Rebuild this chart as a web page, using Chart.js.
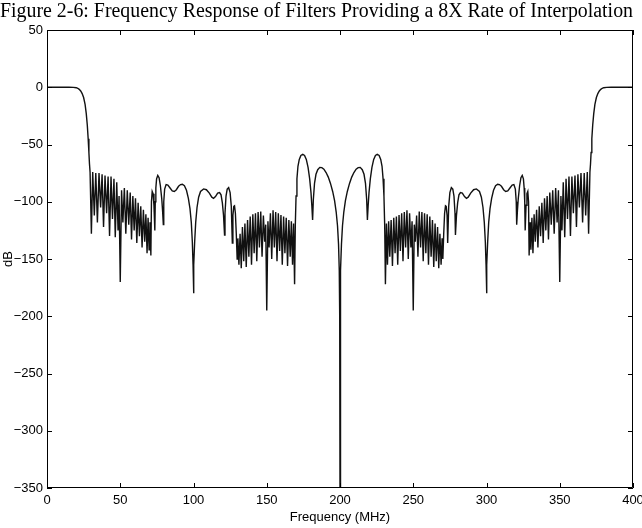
<!DOCTYPE html>
<html>
<head>
<meta charset="utf-8">
<script src="https://cdn.jsdelivr.net/npm/chart.js@4.4.1/dist/chart.umd.min.js"></script>
<style>
  html, body { margin: 0; padding: 0; background: #ffffff; }
  #c { display: block; }
</style>
</head>
<body>
<canvas id="c" width="642" height="528"></canvas>
<script>
// ---- Data ----
const chartTitle = "Figure 2-6: Frequency Response of Filters Providing a 8X Rate of Interpolation";
const xAxisTitle = "Frequency (MHz)";
const yAxisTitle = "dB";
const xTickValues = [0, 50, 100, 150, 200, 250, 300, 350, 400];
const yTickValues = [50, 0, -50, -100, -150, -200, -250, -300, -350];

// Left half (0 .. 200 MHz)
const leftFreq = [
  0, 5, 10, 15, 18, 20, 21, 22, 23, 24, 25, 26, 26.8, 27.5, 28.1, 28.6, 29.0, 29.4,
  30.3, 31.2, 32.3, 33.3, 34.4, 35.5, 36.6, 37.6, 38.6, 39.6, 40.7, 41.7, 42.7, 43.7, 44.7, 45.7, 46.6, 47.6, 48.5, 49.2,
  50.0, 50.9, 51.8, 52.8, 53.8, 54.8, 55.8, 56.8, 57.7, 58.6, 59.5, 60.4, 61.3, 62.2, 63.1, 64.0, 64.9, 65.8, 66.7, 67.5, 68.3, 69.0, 69.7, 70.3, 70.9,
  71.3, 71.8, 72.4, 73.0, 73.6,
  73.9, 74.3, 74.8, 75.6, 76.5, 77.4, 78.3, 78.9, 79.4,
  79.7, 80.3, 81.3, 82.5, 84, 85.5, 86.9, 88.3, 89.8, 91.2, 92.4, 93.8, 95.2, 96.5, 97.6, 98.5, 99.2, 99.7, 100,
  100.3, 100.8, 101.5, 102.4, 103.5, 104.8, 106.9, 108.8, 110.8, 112.5, 113.7, 115, 116.5, 117.8, 118.8, 119.7, 120.5, 121.2,
  121.5, 122.2, 123, 124, 125, 125.8, 126.5, 126.9, 127.5, 128, 128.6, 129.2, 129.8,
  130.3, 131, 131.8, 132.6, 133.4, 134.3, 135.1, 136, 136.9, 137.8, 138.7, 139.6, 140.5, 141.4, 142.3, 143.2, 144.1, 145, 145.9, 146.8, 147.7, 148.6, 149.3,
  150, 150.8, 151.6, 152.5, 153.4, 154.3, 155.2, 156.1, 157, 157.9, 158.8, 159.7, 160.6, 161.5, 162.4, 163.3, 164.2, 165.1, 166, 166.8, 167.6, 168.3, 169,
  169.5, 170, 170.6, 171.3, 172.2, 173.3, 174.6, 175.8, 177, 178.2, 179.3, 180.2, 180.8, 181.3,
  181.8, 182.6, 183.6, 184.8, 186.2, 187.6, 189, 190.5, 192, 193.5, 195, 196.3, 197.4, 198.3, 199, 199.5, 199.8, 200
];
const leftDb = [
  0, 0, 0, 0, -0.1, -0.4, -0.9, -1.8, -3.2, -5.5, -9, -15, -23, -33, -45, -57, -67, -74,
  -128, -74, -112, -75, -118, -75, -105, -76, -122, -77, -110, -78, -130, -78, -115, -80, -131, -83, -125, -95,
  -170, -90, -118, -88, -128, -90, -120, -92, -133, -95, -125, -97, -136, -101, -130, -104, -140, -107, -135, -111, -145, -114, -142, -118, -147,
  -100, -91, -93, -103, -125,
  -100, -88, -80, -77, -79, -86, -97, -108, -120,
  -100, -89, -85, -85.5, -88, -90.5, -91, -89.5, -86.5, -85, -84.7, -86, -90, -97, -106, -118, -135, -155, -180,
  -155, -135, -118, -105, -96, -91, -88.8, -89.5, -92.5, -96, -97, -95.5, -92.5, -92, -94, -101, -112, -129,
  -110, -95, -89, -87.7, -92, -104, -136, -112, -104, -103.5, -110, -128, -150,
  -132, -155, -128, -158, -122, -152, -119, -157, -116, -148, -113, -155, -111, -145, -110, -152, -109, -140, -108.5, -148, -112, -135, -120,
  -195, -117, -140, -110, -150, -107.5, -140, -109, -152, -110, -143, -111.5, -155, -113, -145, -114, -156, -116, -148, -117, -155, -119, -172,
  -120, -95, -80, -69, -63, -59.5, -58.5, -59.5, -63, -70, -80, -92, -104, -116,
  -98, -84, -76, -72, -70, -70.2, -71.5, -74.5, -78.5, -84, -91, -99, -109, -121, -137, -160, -200, -350
];

// Right half (200 .. 400 MHz)
const rightFreq = [
  200.2, 200.5, 201, 201.7, 202.6, 203.7, 205, 206.5, 208, 209.5, 211, 212.4, 213.8, 215.2, 216.4, 217.4, 218.2, 218.7,
  219.2, 219.8, 220.7, 221.8, 223, 224.2, 225.4, 226.7, 227.8, 228.7, 229.4, 230, 230.5, 231,
  231.7, 232.4, 233.2, 234, 234.9, 235.8, 236.7, 237.6, 238.5, 239.4, 240.3, 241.2, 242.1, 243, 243.9, 244.8, 245.7, 246.6, 247.5, 248.4, 249.2,
  250, 250.7, 251.4, 252.3, 253.2, 254.1, 255, 255.9, 256.8, 257.7, 258.6, 259.5, 260.4, 261.3, 262.2, 263.1, 264, 264.9, 265.7, 266.6, 267.4, 268.2, 269, 269.7, 270.2,
  270.8, 271.4, 272, 272.5, 273.1, 273.5, 274.2, 275, 276, 277, 277.8, 278.5, 278.8,
  279.5, 280.3, 281.2, 282.2, 283.5, 285, 286.3, 287.5, 289.2, 291.2, 293.1, 295.2, 296.5, 297.6, 298.5, 299.2, 299.7, 300,
  300.3, 300.8, 301.5, 302.4, 303.5, 304.8, 306.2, 307.6, 308.8, 310.2, 311.7, 313.1, 314.5, 316, 317.5, 318.7, 319.7, 320.3, 320.6,
  321.1, 321.7, 322.6, 323.5, 324.4, 325.2, 325.7, 326.1, 326.4,
  327, 327.6, 328.2, 328.7, 329.1,
  329.7, 330.3, 331, 331.7, 332.5, 333.3, 334.2, 335.1, 336, 336.9, 337.8, 338.7, 339.6, 340.5, 341.4, 342.3, 343.2, 344.2, 345.2, 346.2, 347.2, 348.2, 349.1,
  350, 350.8, 351.5, 352.4, 353.4, 354.3, 355.3, 356.3, 357.3, 358.3, 359.3, 360.4, 361.4, 362.4, 363.4, 364.5, 365.6, 366.7, 367.7, 368.8, 369.7,
  370.6, 371, 371.4, 371.9, 372.5, 373.2, 374, 375, 376, 377, 378, 379, 380, 382, 385, 390, 395, 400
];
const rightDb = [
  -200, -160, -137, -121, -109, -99, -91, -84, -78.5, -74.5, -71.5, -70.2, -70, -72, -76, -84, -98, -116,
  -104, -92, -80, -70, -63, -59.5, -58.5, -59.5, -63, -69, -80, -95, -120, -172,
  -119, -155, -117, -148, -116, -156, -114, -145, -113, -155, -111.5, -143, -110, -152, -109, -140, -107.5, -150, -110, -140, -117,
  -195, -120, -135, -112, -148, -108.5, -140, -109, -152, -110, -145, -111, -155, -113, -148, -116, -157, -119, -152, -122, -158, -128, -155, -132, -150,
  -128, -110, -103.5, -104, -112, -136, -104, -92, -87.7, -89, -95, -110, -129,
  -112, -101, -94, -92, -92.5, -95.5, -97, -96, -92.5, -89.5, -88.8, -91, -96, -105, -118, -135, -155, -180,
  -155, -135, -118, -106, -97, -90, -86, -84.7, -85, -86.5, -89.5, -91, -90.5, -88, -85.5, -85, -89, -100, -120,
  -108, -97, -86, -79, -77, -80, -88, -100, -125,
  -103, -93, -91, -100, -147,
  -118, -142, -114, -145, -111, -135, -107, -140, -104, -130, -101, -136, -97, -125, -95, -133, -92, -120, -90, -128, -88, -118, -90,
  -170, -95, -125, -83, -131, -80, -115, -78, -130, -78, -110, -77, -122, -76, -105, -75, -118, -75, -112, -74, -128,
  -74, -67, -57, -45, -33, -23, -15, -9, -5.5, -3.2, -1.8, -0.9, -0.4, -0.1, 0, 0, 0, 0
];

// ---- Build the dataset from the arrays ----
const allFreq = leftFreq.concat(rightFreq);
const allDb = leftDb.concat(rightDb);
const points = allFreq.map((f, i) => ({ x: f, y: allDb[i] }));

const sansFont = "'Liberation Sans', Arial, Helvetica, sans-serif";
const serifFont = "'Liberation Serif', 'Times New Roman', 'DejaVu Serif', serif";

// Frame with inward ticks on all four sides (MATLAB style)
const framePlugin = {
  id: 'frame',
  afterDatasetsDraw(chart) {
    const { ctx, chartArea: a, scales } = chart;
    const xs = scales.x, ys = scales.y;
    const len = 5;
    ctx.save();
    ctx.strokeStyle = '#000';
    ctx.lineWidth = 1;
    ctx.beginPath();
    ctx.rect(a.left + 0.5, a.top + 0.5, a.right - a.left - 1, a.bottom - a.top - 1);
    xTickValues.forEach(v => {
      const px = Math.round(xs.getPixelForValue(v)) + 0.5;
      ctx.moveTo(px, a.bottom); ctx.lineTo(px, a.bottom - len);
      ctx.moveTo(px, a.top); ctx.lineTo(px, a.top + len);
    });
    yTickValues.forEach(v => {
      const py = Math.round(ys.getPixelForValue(v)) + 0.5;
      ctx.moveTo(a.left, py); ctx.lineTo(a.left + len, py);
      ctx.moveTo(a.right, py); ctx.lineTo(a.right - len, py);
    });
    ctx.stroke();
    ctx.restore();
  }
};

const minusFormat = v => String(v).replace('-', '\u2212');

new Chart(document.getElementById('c'), {
  type: 'scatter',
  data: {
    datasets: [{
      data: points,
      showLine: true,
      borderColor: '#111111',
      borderWidth: 1.4,
      pointRadius: 0,
      pointHoverRadius: 0,
      tension: 0,
      fill: false
    }]
  },
  options: {
    responsive: false,
    animation: false,
    devicePixelRatio: 1,
    layout: { autoPadding: false, padding: { left: 0, right: 9, top: 0, bottom: 0 } },
    plugins: {
      legend: { display: false },
      tooltip: { enabled: false },
      title: {
        display: true,
        text: chartTitle,
        color: '#000',
        font: { family: serifFont, size: 20, weight: 'normal', lineHeight: 1.2 },
        padding: { top: 0, bottom: 6 }
      }
    },
    scales: {
      x: {
        type: 'linear',
        min: 0, max: 400,
        afterBuildTicks(scale) { scale.ticks = xTickValues.map(v => ({ value: v })); },
        afterFit(scale) { scale.height = 40; scale.paddingLeft = 0; scale.paddingRight = 0; },
        grid: { display: false, drawTicks: false },
        border: { display: false },
        ticks: { color: '#000', font: { family: sansFont, size: 13 }, padding: 5, maxRotation: 0, autoSkip: false, callback: minusFormat },
        title: { display: true, text: xAxisTitle, color: '#000', font: { family: sansFont, size: 13 }, padding: { top: 0, bottom: 3 } }
      },
      y: {
        type: 'linear',
        min: -350, max: 50,
        afterBuildTicks(scale) { scale.ticks = yTickValues.map(v => ({ value: v })); },
        afterFit(scale) { scale.width = 47; },
        grid: { display: false, drawTicks: false },
        border: { display: false },
        ticks: { color: '#000', font: { family: sansFont, size: 13 }, padding: 4, autoSkip: false, callback: minusFormat },
        title: { display: true, text: yAxisTitle, color: '#000', font: { family: sansFont, size: 13 }, padding: { top: 1, bottom: 0 } }
      }
    }
  },
  plugins: [framePlugin]
});
</script>
</body>
</html>
